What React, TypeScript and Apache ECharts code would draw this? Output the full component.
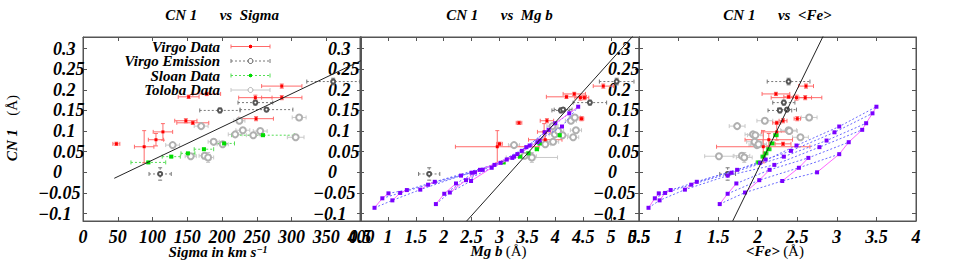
import React, { useEffect, useRef } from "react";
import * as echarts from "echarts";

const FONT = '"Liberation Serif", "Times New Roman", serif';

// ---- axes ----
const cnMin = -0.118;
const cnMax = 0.328;
const cnTickValues = [-0.1, -0.05, 0, 0.05, 0.1, 0.15, 0.2, 0.25, 0.3];
const cnPosLabels = [0, 0.05, 0.1, 0.15, 0.2, 0.25, 0.3];
const cnNegLabels = [-0.1, -0.05];
const sigmaAxis = [0, 400, 50];
const mgbAxis = [0.5, 5.5, 0.5];
const feAxis = [0.5, 4, 0.5];

// ---- Virgo Data ----
const virgoSigma = [48, 88, 105, 115, 148, 158, 152, 178, 248, 286, 286, 249];
const virgoSigmaErr = [5, 14, 11, 14, 16, 23, 15, 20, 24, 29, 29, 25];
const virgoCN = [0.069, 0.062, 0.079, 0.098, 0.125, 0.12, 0.183, 0.19, 0.181, 0.181, 0.209, 0.13];
const virgoCNErr = [0.004, 0.039, 0.015, 0.02, 0.005, 0.004, 0.004, 0.004, 0.006, 0.005, 0.005, 0.005];
const virgoMgb = [3.0, 2.96, 3.82, 3.8, 3.85, 3.35, 4.2, 4.34, 4.45, 4.52, 4.86, 4.47];
const virgoMgbErr = [0.05, 0.75, 0.3, 0.12, 0.12, 0.05, 0.36, 0.2, 0.1, 0.08, 0.18, 0.04];
const virgoFe = [2.32, 2.07, 2.14, 2.24, 2.32, 2.24, 2.39, 2.23, 2.49, 2.6, 2.61, 2.5];
const virgoFeErr = [0.1, 0.59, 0.3, 0.19, 0.05, 0.05, 0.06, 0.175, 0.32, 0.08, 0.095, 0.04];

// ---- Virgo Emission ----
const emSigma = [111, 197, 264, 248, 360];
const emSigmaErr = [16, 29, 38, 25, 38];
const emCN = [-0.004, 0.15, 0.152, 0.169, 0.22];
const emCNErr = [0.015, 0.006, 0.005, 0.006, 0.008];
const emMgb = [1.74, 4.1, 4.14, 4.62, 5.1];
const emMgbErr = [0.19, 0.16, 0.16, 0.3, 0.31];
const emFe = [1.62, 2.28, 2.37, 2.33, 2.39];
const emFeErr = [0.1, 0.15, 0.12, 0.14, 0.27];

// ---- Sloan Data ----
const sloanSigma = [94, 127, 151, 174, 203, 259];
const sloanSigmaErr = [25, 13, 10, 14, 15, 45];
const sloanCN = [0.024, 0.038, 0.046, 0.056, 0.07, 0.09];
const sloanCNErr = [0.002, 0.002, 0.002, 0.002, 0.002, 0.002];
const sloanMgb = [3.07, 3.37, 3.52, 3.67, 3.72, 4.08];
const sloanMgbErr = [0.03, 0.03, 0.03, 0.03, 0.03, 0.03];
const sloanFe = [2.01, 2.07, 2.1, 2.14, 2.18, 2.23];
const sloanFeErr = [0.03, 0.03, 0.03, 0.03, 0.03, 0.03];

// ---- Toloba Data ----
const tolSigma = [129, 155, 175, 180, 188, 201, 170, 225, 219, 230, 245, 255, 306, 311];
const tolSigmaErr = [10, 8, 8, 8, 8, 8, 10, 8, 10, 10, 10, 10, 12, 10];
const tolCN = [0.066, 0.039, 0.04, 0.036, 0.074, 0.068, 0.112, 0.125, 0.092, 0.102, 0.09, 0.1, 0.085, 0.133];
const tolCNErr = [0.003, 0.004, 0.004, 0.012, 0.004, 0.003, 0.004, 0.004, 0.003, 0.004, 0.003, 0.004, 0.003, 0.004];
const tolMgb = [3.26, 3.56, 3.45, 3.58, 3.96, 3.82, 3.95, 4.28, 3.99, 4.37, 4.13, 4.05, 4.32, 4.35];
const tolMgbErr = [0.1, 0.1, 0.1, 0.46, 0.1, 0.1, 0.1, 0.1, 0.1, 0.1, 0.1, 0.1, 0.1, 0.1];
const tolFe = [1.99, 1.51, 1.8, 1.83, 1.96, 2.01, 1.74, 2.09, 1.94, 2.39, 1.97, 2.4, 2.54, 2.65];
const tolFeErr = [0.1, 0.18, 0.1, 0.1, 0.1, 0.1, 0.1, 0.1, 0.1, 0.1, 0.1, 0.1, 0.1, 0.1];

// ---- Model grid ----
const modelCN = [
  -0.086, -0.063, -0.051, -0.068, -0.05, -0.043, -0.042, -0.03, -0.023, -0.077,
  -0.052, -0.027, -0.049, -0.019, 0.006, -0.021, 0.011, 0.035, 0.0, 0.044,
  0.073, -0.008, -0.001, 0.006, 0.023, 0.031, 0.018, 0.038, 0.052, 0.065,
  0.061, 0.077, 0.097, 0.111, 0.103, 0.119, 0.143, 0.159,
];
const modelFe = [
  0.62, 0.7, 0.75, 0.76, 0.83, 0.9, 1.08, 1.16, 1.23, 1.52,
  1.62, 1.73, 1.84, 2.02, 2.15, 2.31, 2.52, 2.64, 2.75, 3.03,
  3.15, 1.62, 1.67, 1.74, 2.03, 2.1, 2.21, 2.33, 2.42, 2.49,
  2.78, 2.87, 2.97, 3.03, 3.32, 3.37, 3.45, 3.5,
];
const modelMgb = [
  0.76, 0.9, 1.01, 1.08, 1.22, 1.34, 1.58, 1.72, 1.84, 1.86,
  2.01, 2.22, 2.11, 2.4, 2.65, 2.49, 2.86, 3.23, 2.56, 3.32,
  3.68, 2.31, 2.5, 2.7, 3.02, 3.13, 2.91, 3.26, 3.4, 3.54,
  3.48, 3.72, 3.81, 4.12, 3.88, 4.0, 4.25, 4.41,
];
const modelAgeLines = [
  [0, 3, 6, 21, 26, 30, 34],
  [1, 4, 7, 22, 27, 31, 35],
  [2, 5, 8, 23, 25, 28, 32, 36],
  [8, 24, 29, 33, 37],
  [9, 12, 15, 18],
  [10, 13, 16, 19],
  [11, 14, 17, 20],
];
const modelMetalLines = [
  [0, 1, 2],
  [3, 4, 5],
  [6, 7, 8],
  [9, 10, 11],
  [12, 13, 14],
  [15, 16, 17],
  [18, 19, 20, 34, 35, 36, 37],
];

// ---- linear fits: [intercept, slope, xFrom, xTo] ----
const fitSigma = [-0.0506, 0.000803, 45, 400];
const fitMgb = [-0.481, 0.1505, 2.41, 5.6];
const fitFe = [-0.778, 0.392, 1.684, 2.9];

const fmtNum = (v: number) => {
  const s = String(+v.toFixed(2));
  return v < 0 ? "\u2212" + s.slice(1) : s;
};

const labelFont = {
  fontFamily: FONT,
  fontWeight: "bold" as const,
  fontStyle: "italic" as const,
  fontSize: 18,
  color: "#000",
};

const AXIS_COLOR = "#555";

function errSeries(p: number, xs: number[], xe: number[], ys: number[], ye: number[], color: string, dash: boolean) {
  return {
    type: "custom",
    coordinateSystem: "cartesian2d",
    xAxisIndex: p * 2,
    yAxisIndex: p * 3,
    clip: true,
    silent: true,
    z: 2,
    data: xs.map((x, i) => [x, ys[i], xe[i], ye[i]]),
    renderItem: (_params: any, api: any) => {
      const x = api.value(0);
      const y = api.value(1);
      const dx = api.value(2);
      const dy = api.value(3);
      const l = api.coord([x - dx, y]);
      const r = api.coord([x + dx, y]);
      const t = api.coord([x, y + dy]);
      const b = api.coord([x, y - dy]);
      const st: any = { stroke: color, lineWidth: 1, fill: "none" };
      if (dash) st.lineDash = [2, 2];
      const cap = { stroke: color, lineWidth: 1, fill: "none" };
      const c = 2;
      return {
        type: "group",
        children: [
          { type: "line", shape: { x1: l[0], y1: l[1], x2: r[0], y2: r[1] }, style: st },
          { type: "line", shape: { x1: t[0], y1: t[1], x2: b[0], y2: b[1] }, style: st },
          { type: "line", shape: { x1: l[0], y1: l[1] - c, x2: l[0], y2: l[1] + c }, style: cap },
          { type: "line", shape: { x1: r[0], y1: r[1] - c, x2: r[0], y2: r[1] + c }, style: cap },
          { type: "line", shape: { x1: t[0] - c, y1: t[1], x2: t[0] + c, y2: t[1] }, style: cap },
          { type: "line", shape: { x1: b[0] - c, y1: b[1], x2: b[0] + c, y2: b[1] }, style: cap },
        ],
      };
    },
  };
}

function scatterSeries(p: number, xs: number[], ys: number[], symbol: string, size: number, color: string, z = 5) {
  return {
    type: "scatter",
    xAxisIndex: p * 2,
    yAxisIndex: p * 3,
    symbol,
    symbolSize: size,
    silent: true,
    z,
    itemStyle: { color, opacity: 1, borderWidth: symbol.startsWith("empty") ? 1 : 0 },
    data: xs.map((x, i) => [x, ys[i]]),
  };
}

function lineSeries(p: number, pts: number[][], color: string, dash: boolean, z = 3) {
  return {
    type: "line",
    xAxisIndex: p * 2,
    yAxisIndex: p * 3,
    symbol: "none",
    showSymbol: false,
    silent: true,
    clip: true,
    z,
    lineStyle: { color, width: 1, type: dash ? [2, 2] : "solid" },
    data: pts,
  };
}

function fitPts(f: number[]) {
  return [f[2], f[3]].map((x) => [x, f[0] + f[1] * x]);
}

const GRIDS = [
  { left: 83, width: 278 },
  { left: 360, width: 279 },
  { left: 639, width: 277 },
];
const LABEL_MARGIN = [30, 32, 31];

export default function App() {
  const ref = useRef<HTMLDivElement>(null);

  useEffect(() => {
    if (!ref.current) return;
    const chart = echarts.init(ref.current, undefined, { renderer: "svg" });

    const xRanges = [sigmaAxis, mgbAxis, feAxis];
    const xAxes: any[] = [];
    const yAxes: any[] = [];
    xRanges.forEach((rg, p) => {
      const base = {
        gridIndex: p,
        type: "value",
        min: rg[0],
        max: rg[1],
        interval: rg[2],
        splitLine: { show: false },
        axisLine: { show: true, onZero: false, lineStyle: { color: AXIS_COLOR } },
        axisTick: { show: true, inside: true, length: 4, lineStyle: { color: AXIS_COLOR } },
      };
      xAxes.push({
        ...base,
        position: "bottom",
        axisLabel: { ...labelFont, margin: 7, showMinLabel: true, showMaxLabel: true, formatter: fmtNum },
      });
      xAxes.push({ ...base, position: "top", axisLabel: { show: false } });
      const ybase = {
        gridIndex: p,
        type: "value",
        min: cnMin,
        max: cnMax,
        splitLine: { show: false },
      };
      yAxes.push({
        ...ybase,
        position: "left",
        axisLine: { show: true, onZero: false, lineStyle: { color: AXIS_COLOR } },
        axisTick: { show: true, inside: true, length: 4, customValues: cnTickValues, lineStyle: { color: AXIS_COLOR } },
        axisLabel: { ...labelFont, align: "left", margin: LABEL_MARGIN[p], customValues: cnPosLabels, formatter: fmtNum },
      });
      yAxes.push({
        ...ybase,
        position: "left",
        axisLine: { show: false },
        axisTick: { show: false },
        axisLabel: { ...labelFont, align: "left", margin: LABEL_MARGIN[p] + 15, customValues: cnNegLabels, formatter: fmtNum },
      });
      yAxes.push({
        ...ybase,
        position: "right",
        axisLine: { show: true, onZero: false, lineStyle: { color: AXIS_COLOR } },
        axisTick: { show: true, inside: true, length: 4, customValues: cnTickValues, lineStyle: { color: AXIS_COLOR } },
        axisLabel: { show: false },
      });
    });

    const series: any[] = [];
    const xsets = [
      {
        virgo: [virgoSigma, virgoSigmaErr],
        em: [emSigma, emSigmaErr],
        sloan: [sloanSigma, sloanSigmaErr],
        tol: [tolSigma, tolSigmaErr],
        model: null as number[] | null,
        fit: fitSigma,
      },
      {
        virgo: [virgoMgb, virgoMgbErr],
        em: [emMgb, emMgbErr],
        sloan: [sloanMgb, sloanMgbErr],
        tol: [tolMgb, tolMgbErr],
        model: modelMgb,
        fit: fitMgb,
      },
      {
        virgo: [virgoFe, virgoFeErr],
        em: [emFe, emFeErr],
        sloan: [sloanFe, sloanFeErr],
        tol: [tolFe, tolFeErr],
        model: modelFe,
        fit: fitFe,
      },
    ];

    xsets.forEach((s, p) => {
      series.push(errSeries(p, s.tol[0], s.tol[1], tolCN, tolCNErr, "#c8c8c8", false));
      series.push(errSeries(p, s.sloan[0], s.sloan[1], sloanCN, sloanCNErr, "#55dd55", true));
      series.push(errSeries(p, s.em[0], s.em[1], emCN, emCNErr, "#777777", true));
      series.push(errSeries(p, s.virgo[0], s.virgo[1], virgoCN, virgoCNErr, "#ff6a6a", false));
      series.push(scatterSeries(p, s.tol[0], tolCN, "emptyCircle", 6, "#b0b0b0", 4));
      series.push(scatterSeries(p, s.sloan[0], sloanCN, "rect", 4, "#00dd00", 4));
      series.push(scatterSeries(p, s.em[0], emCN, "emptyCircle", 4, "#555555", 4));
      series.push(scatterSeries(p, s.virgo[0], virgoCN, "rect", 3, "#ff0000", 4));
      if (s.model) {
        const mx = s.model;
        modelAgeLines.forEach((idx) => {
          series.push(lineSeries(p, idx.map((i) => [mx[i], modelCN[i]]), "#6a6aff", true, 5));
        });
        modelMetalLines.forEach((idx) => {
          series.push(lineSeries(p, idx.map((i) => [mx[i], modelCN[i]]), "#ff66ff", false, 5));
        });
        series.push(scatterSeries(p, mx, modelCN, "rect", 4, "#7a00ff", 6));
      }
      series.push(lineSeries(p, fitPts(s.fit), "#222222", false, 7));
    });

    const titleStyle = { ...labelFont, fontSize: 15 };
    const legendRows = [
      { text: "Virgo Data", color: "#ff6a6a", mark: "#ff0000", dash: false, sym: "rect" },
      { text: "Virgo Emission", color: "#777777", mark: "#555555", dash: true, sym: "circle" },
      { text: "Sloan Data", color: "#55dd55", mark: "#00dd00", dash: true, sym: "rect" },
      { text: "Toloba Data", color: "#c8c8c8", mark: "#b0b0b0", dash: false, sym: "circle" },
    ];
    const legendY = [46.5, 61, 75.5, 90];
    const graphic: any[] = [];
    legendRows.forEach((r, i) => {
      const y = legendY[i];
      graphic.push({
        type: "text",
        x: 220,
        y,
        z: 100,
        style: { ...titleStyle, text: r.text, fill: "#000", align: "right", verticalAlign: "middle" },
      });
      const ls: any = { stroke: r.color, lineWidth: 1 };
      if (r.dash) ls.lineDash = [2, 2];
      graphic.push({ type: "line", z: 100, shape: { x1: 231, y1: y, x2: 270, y2: y }, style: ls });
      graphic.push({ type: "line", z: 100, shape: { x1: 231, y1: y - 2, x2: 231, y2: y + 2 }, style: { stroke: r.color, lineWidth: 1 } });
      graphic.push({ type: "line", z: 100, shape: { x1: 270, y1: y - 2, x2: 270, y2: y + 2 }, style: { stroke: r.color, lineWidth: 1 } });
      graphic.push({ type: "line", z: 100, shape: { x1: 250.5, y1: y - 2, x2: 250.5, y2: y + 2 }, style: { stroke: r.color, lineWidth: 1 } });
      if (r.sym === "rect") {
        graphic.push({ type: "rect", z: 101, shape: { x: 249, y: y - 1.5, width: 3, height: 3 }, style: { fill: r.mark } });
      } else {
        graphic.push({ type: "circle", z: 101, shape: { cx: 250.5, cy: y, r: 2.5 }, style: { fill: "#fff", stroke: r.mark, lineWidth: 1 } });
      }
    });

    const titles = [
      { x: 222, t: "Sigma" },
      { x: 499.5, t: "Mg b" },
      { x: 777.5, t: "<Fe>" },
    ];
    titles.forEach((t) => {
      graphic.push({
        type: "text",
        x: t.x,
        y: 15,
        style: { ...titleStyle, text: "CN 1      vs  " + t.t, fill: "#000", align: "center", verticalAlign: "middle" },
      });
    });

    const rich = {
      b: { ...titleStyle, fill: "#000" },
      r: { fontFamily: FONT, fontSize: 15, fill: "#000" },
      sup: { ...titleStyle, fontSize: 10, fill: "#000", verticalAlign: "top" },
    };
    graphic.push({
      type: "text",
      x: 218,
      y: 252,
      style: { text: "{b|Sigma in km s}{sup|\u22121}", rich, align: "center", verticalAlign: "middle" },
    });
    graphic.push({
      type: "text",
      x: 498.5,
      y: 251,
      style: { text: "{b|Mg b} {r|(\u00c5)}", rich, align: "center", verticalAlign: "middle" },
    });
    graphic.push({
      type: "text",
      x: 775,
      y: 251,
      style: { text: "{b|<Fe>} {r|(\u00c5)}", rich, align: "center", verticalAlign: "middle" },
    });
    graphic.push({
      type: "text",
      x: 12,
      y: 128,
      rotation: Math.PI / 2,
      style: { text: "{b|CN 1}    {r|(\u00c5)}", rich, align: "center", verticalAlign: "middle" },
    });

    chart.setOption({
      animation: false,
      backgroundColor: "#fff",
      grid: GRIDS.map((g) => ({
        left: g.left,
        width: g.width,
        top: 37,
        height: 184,
        show: true,
        borderColor: AXIS_COLOR,
        borderWidth: 1,
        backgroundColor: "transparent",
      })),
      xAxis: xAxes,
      yAxis: yAxes,
      series,
      graphic,
    });

    return () => chart.dispose();
  }, []);

  return <div ref={ref} style={{ position: "absolute", left: 0, top: 0, width: 969, height: 277 }} />;
}
